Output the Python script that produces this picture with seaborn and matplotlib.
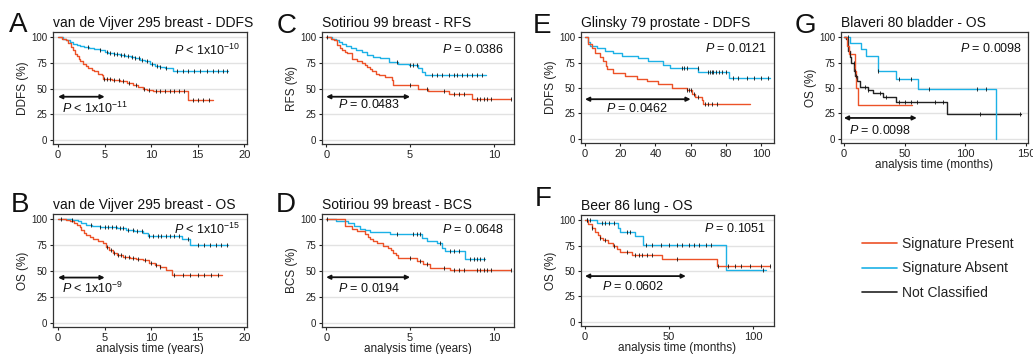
import numpy as np
import pandas as pd
import matplotlib
matplotlib.use('Agg')
import matplotlib.pyplot as plt
from matplotlib.lines import Line2D
import seaborn as sns

sns.set_theme(style="ticks")
plt.rcParams['font.family'] = ['Liberation Sans', 'DejaVu Sans']
plt.rcParams['mathtext.fontset'] = 'custom'
plt.rcParams['mathtext.rm'] = 'Liberation Sans'
plt.rcParams['mathtext.it'] = 'Liberation Sans:italic'

RED = '#ec5228'
BLUE = '#1cb1e6'
BLACK = '#222222'
palette = {'Signature Present': RED, 'Signature Absent': BLUE, 'Not Classified': BLACK}

# A: van de Vijver 295 breast - DDFS (years)
a_pres_t = [0.4, 0.9, 1.1, 1.4, 1.6, 1.8, 2.0, 2.2, 2.4, 2.7, 3.0, 3.2, 3.6, 3.9, 4.3, 4.7, 4.8,
            5.8, 6.6, 7.4, 8.1, 8.6, 9.1, 9.6, 10.2, 14.0]
a_pres_s = [98.5, 96.8, 94, 90.3, 87, 83.9, 81.5, 79, 76.5, 74, 72, 70, 68.3, 66.7, 64.5, 62.8, 59.7,
            58.3, 57, 55.5, 53.7, 51.8, 49.8, 48.5, 47.3, 38.6]
a_pres_end = 16.6
a_pres_cens = [4.9, 5.3, 5.6, 6.0, 6.5, 7.0, 7.6, 8.4, 9.2, 9.8, 10.5, 11.0, 11.5, 12.0, 12.5, 13.0,
               13.5, 14.5, 15.0, 15.6, 16.2]
a_abs_t = [0.5, 0.9, 1.3, 1.6, 2.0, 2.3, 2.8, 3.3, 3.9, 4.5, 5.0, 5.4, 6.0, 6.6, 7.2, 7.8, 8.3, 8.8,
           9.3, 9.9, 10.4, 11.0, 11.5, 12.4]
a_abs_s = [98.5, 96.8, 95, 93.5, 92.3, 91.3, 90.2, 89.3, 88.3, 87, 85.8, 84.8, 83.8, 82.8, 81.7, 80.6,
           79.3, 78, 76.5, 73.5, 72, 70.5, 69.5, 67]
a_abs_end = 18.3
a_abs_cens = [3.2, 4.5, 5.2, 5.6, 6.0, 6.3, 6.8, 7.1, 7.5, 7.9, 8.3, 8.7, 9.0, 9.6, 10.1, 10.6, 11.0,
              11.6, 12.8, 13.4, 14.0, 14.6, 15.3, 16.0, 16.6, 17.2, 17.7, 18.1]

# B: van de Vijver 295 breast - OS (years)
b_pres_t = [0.9, 1.3, 1.7, 2.0, 2.3, 2.5, 2.8, 3.0, 3.4, 3.8, 4.3, 4.8, 5.1, 5.5, 5.9, 6.3, 7.0, 7.7,
            8.4, 9.1, 9.8, 10.4, 10.9, 11.6, 12.2]
b_pres_s = [99.5, 98.7, 96.5, 94.5, 92, 89.7, 87, 84.8, 82.5, 80.6, 78.8, 76.7, 73.5, 70.2, 67.5, 65.4,
            63.8, 62.1, 61.3, 60.5, 57.3, 55.5, 54, 50.8, 46]
b_pres_end = 17.6
b_pres_cens = [5.3, 5.7, 6.0, 6.4, 6.8, 7.2, 7.6, 8.0, 8.6, 9.3, 10.0, 10.5, 11.0, 12.5, 13.4, 14.2,
               15.0, 15.7, 16.4, 17.2]
b_abs_t = [1.5, 2.1, 2.5, 3.0, 3.6, 4.5, 5.5, 6.3, 7.3, 8.2, 9.1, 9.7, 13.3, 14.2]
b_abs_s = [99, 98, 96.5, 94.5, 93.5, 92.9, 92, 91.3, 89.7, 88.3, 87, 83.9, 80.6, 75.2]
b_abs_end = 18.3
b_abs_cens = [0.3, 1.5, 3.5, 4.5, 5.0, 5.4, 5.8, 6.2, 6.6, 7.0, 7.5, 8.0, 8.5, 9.0, 9.8, 10.2, 10.7,
              11.1, 11.6, 12.0, 12.5, 13.0, 14.0, 15.0, 15.7, 16.3, 17.0, 17.5, 18.1]

# C: Sotiriou 99 breast - RFS (years)
c_pres_t = [0.3, 0.46, 0.65, 0.8, 0.95, 1.1, 1.25, 1.55, 1.85, 2.14, 2.3, 2.44, 2.6, 2.74, 2.95, 3.13,
            3.5, 3.93, 4.0, 5.5, 6.1, 7.3, 8.7]
c_pres_s = [98.4, 96.8, 92, 89.5, 87, 86, 84.8, 79, 77, 75, 73, 70.9, 69, 66.7, 64.5, 62.8, 60.8, 58,
            53.2, 50, 47.3, 45, 40]
c_pres_end = 11.05
c_pres_cens = [5.0, 6.0, 7.0, 7.6, 7.9, 8.2, 9.0, 9.2, 9.4, 9.6, 9.8, 11.05]
c_abs_t = [0.35, 0.56, 0.75, 0.95, 1.2, 1.45, 1.8, 2.14, 2.44, 2.8, 3.23, 3.73, 4.3, 4.92, 5.5, 5.7, 5.9]
c_abs_s = [98.5, 96.8, 95, 93.5, 91.5, 89.3, 87.5, 86, 82.2, 81, 79.6, 75.7, 74, 72.5, 70, 66, 63.4]
c_abs_end = 9.55
c_abs_cens = [0.05, 4.2, 5.0, 5.2, 5.4, 6.3, 6.6, 6.9, 7.3, 7.6, 7.8, 8.1, 8.4, 8.7, 9.0, 9.3]

# D: Sotiriou 99 breast - BCS (years)
d_pres_t = [1.13, 1.53, 1.83, 2.32, 2.5, 2.62, 2.8, 3.02, 3.4, 3.71, 3.85, 4.0, 4.15, 4.3, 5.4, 5.8,
            6.2, 7.4]
d_pres_s = [93.5, 90.3, 88.7, 85.5, 83, 80.6, 78.5, 76.7, 74.5, 72.5, 70, 67.6, 65, 62.8, 59.5, 56.3,
            53.1, 50.8]
d_pres_end = 11.05
d_pres_cens = [5.0, 5.6, 6.0, 7.0, 7.6, 7.9, 8.2, 9.0, 9.2, 9.4, 9.6, 9.8, 11.05]
d_abs_t = [0.6, 1.33, 1.63, 2.02, 2.3, 2.62, 3.81, 5.7, 6.0, 6.6, 6.9, 7.1, 8.3]
d_abs_s = [98.4, 96.8, 93.5, 91, 89.5, 87.8, 85.5, 82.2, 79, 77.5, 72.6, 69.4, 62]
d_abs_end = 9.5
d_abs_cens = [0.05, 4.2, 5.2, 5.4, 5.6, 6.8, 7.4, 7.6, 7.9, 8.6, 8.8, 9.0, 9.2, 9.4]

# E: Glinsky 79 prostate - DDFS (months)
e_pres_t = [1.9, 3.8, 5.7, 8.5, 10.4, 12, 12.3, 16.1, 22.7, 29.4, 35, 41.7, 49.2, 57.8, 60.6, 62.5,
            66.3, 67.2]
e_pres_s = [93.6, 88.9, 84.1, 80.9, 76.2, 71.4, 68.2, 65, 61.9, 58.7, 56.5, 54, 50.2, 47.6, 44.4, 41.3,
            38.7, 34.3]
e_pres_end = 93.5
e_pres_cens = [58, 59, 60, 62, 64, 68, 70, 72, 75]
e_abs_t = [1.9, 2.8, 6.6, 11.4, 16.1, 20.8, 30.3, 36, 44.5, 48.3, 64.4, 82]
e_abs_s = [95.2, 91.4, 88.9, 86.3, 84.1, 81.9, 79.4, 76.2, 73, 69.2, 66, 60.3]
e_abs_end = 105
e_abs_cens = [55, 56.5, 58, 64, 70, 71, 72, 73, 74.5, 76, 78, 80, 84, 87, 92, 96, 100, 104]

# F: Beer 86 lung - OS (months)
f_pres_t = [2, 4, 5.9, 7.9, 8.9, 10.9, 13.9, 16.9, 18.8, 20.8, 27.8, 45.6, 78.3]
f_pres_s = [96.1, 91.9, 88.7, 85.5, 82.3, 80, 77.4, 74.2, 71.6, 68.4, 66.2, 62, 54.9]
f_pres_end = 110.4
f_pres_cens = [1, 4, 9, 12, 17, 25, 30, 32, 34, 37, 40, 55, 79, 85, 89, 93, 98, 105, 110]
f_abs_t = [6.9, 19.8, 20.8, 29.8, 34.7, 83.9]
f_abs_s = [97.4, 91.9, 88.7, 84.5, 75.6, 50.7]
f_abs_end = 108
f_abs_cens = [1, 3, 10, 12, 14, 17, 25, 27, 36, 40, 45, 50, 55, 58, 62, 65, 68, 72, 75, 106]

# G: Blaveri 80 bladder - OS (months)
g_pres_t = [2.4, 3.8, 8.9, 10.2, 11.5]
g_pres_s = [91.7, 83.3, 66.7, 50, 33.3]
g_pres_end = 56.3
g_pres_cens = [5, 9]
g_abs_t = [4.8, 14.3, 17.8, 27.8, 43.3, 61.2, 125.2]
g_abs_s = [94, 88, 81.4, 66.8, 58.6, 49.5, 0]
g_abs_end = 125.2
g_abs_cens = [3, 28, 45, 55, 70, 110, 117]
g_nc_t = [1.5, 3.5, 5.0, 6.2, 8.1, 9.5, 10.8, 13, 19.7, 23.8, 31.9, 42.8, 84.6]
g_nc_s = [97.7, 86.4, 80, 75, 66.8, 62, 57, 50.6, 48, 44.7, 40.8, 36.6, 24.6]
g_nc_end = 145.5
g_nc_cens = [8, 10, 17, 20, 30, 35, 45, 50, 55, 60, 75, 82, 112, 145]


def km_frame(name, t, s, end):
    return pd.DataFrame({'time': [0] + t + [end], 'surv': [100] + s + [s[-1]], 'group': name})


def censor_frame(t, s, cens):
    idx = np.searchsorted(t, cens, side='right')
    return pd.DataFrame({'time': cens, 'surv': np.array([100] + s)[idx]})


W, H = 1033, 354
fig = plt.figure(figsize=(W / 100, H / 100), dpi=100)


def panel(box, curves, xlim, xticks, letter, letter_xy, title, ylabel, p_top, p_top_xy,
          p_bot, p_bot_xy, arrow_end, arrow_y, xlabel=None):
    l, t_, r, b = box
    ax = fig.add_axes([l / W, 1 - b / H, (r - l) / W, (b - t_) / H])
    lines = pd.concat([km_frame(n, t, s, e) for n, t, s, e, c in curves])
    marks = pd.concat([censor_frame(t, s, c) for n, t, s, e, c in curves])
    ax.yaxis.grid(True, color='#e2e2e2', lw=1)
    ax.set_axisbelow(True)
    sns.lineplot(data=lines, x='time', y='surv', hue='group', palette=palette, estimator=None,
                 sort=False, drawstyle='steps-post', lw=1, legend=False, ax=ax)
    ax.plot(marks['time'], marks['surv'], ls='none', marker='|', ms=2.4, mew=0.6, color='#111')
    ax.annotate('', xy=(arrow_end, arrow_y), xytext=(0, arrow_y),
                arrowprops=dict(arrowstyle='<|-|>', color='#111', lw=1.3, mutation_scale=6,
                                shrinkA=0, shrinkB=0))
    ax.text(p_top_xy[0], p_top_xy[1], p_top, transform=ax.transAxes, ha='right', va='center',
            fontsize=9, color='#111')
    ax.text(p_bot_xy[0], p_bot_xy[1], p_bot, ha='left', va='center', fontsize=9, color='#111')
    ax.set_xlim(*xlim)
    ax.set_ylim(-4, 105)
    ax.set_xticks(xticks)
    ax.set_yticks([0, 25, 50, 75, 100])
    ax.tick_params(axis='both', length=2.5, width=0.8, pad=1.5, colors='#222')
    ax.tick_params(axis='y', labelsize=7)
    ax.tick_params(axis='x', labelsize=8)
    for sp in ax.spines.values():
        sp.set_visible(True)
        sp.set_color('#333')
        sp.set_linewidth(0.9)
    ax.set_ylabel(ylabel, fontsize=8.5, labelpad=1.5, color='#222')
    ax.set_xlabel(xlabel if xlabel else '', fontsize=8.5, labelpad=0, color='#222')
    ax.set_title(title, loc='left', fontsize=10, pad=3.5, color='#111')
    fig.text(letter_xy[0] / W, 1 - letter_xy[1] / H, letter, fontsize=20, va='baseline',
             ha='left', color='#111')
    return ax


panel((53, 32, 247, 144),
      [('Signature Absent', a_abs_t, a_abs_s, a_abs_end, a_abs_cens),
       ('Signature Present', a_pres_t, a_pres_s, a_pres_end, a_pres_cens)],
      (-0.55, 20.3), [0, 5, 10, 15, 20], 'A', (9, 32), 'van de Vijver 295 breast - DDFS', 'DDFS (%)',
      r'$P$ < 1x10$^{-10}$', (0.964, 0.84), r'$P$ < 1x10$^{-11}$', (0.45, 31), 5, 42)

panel((53, 214, 247, 327),
      [('Signature Absent', b_abs_t, b_abs_s, b_abs_end, b_abs_cens),
       ('Signature Present', b_pres_t, b_pres_s, b_pres_end, b_pres_cens)],
      (-0.55, 20.3), [0, 5, 10, 15, 20], 'B', (11, 212), 'van de Vijver 295 breast - OS', 'OS (%)',
      r'$P$ < 1x10$^{-15}$', (0.964, 0.86), r'$P$ < 1x10$^{-9}$', (0.45, 33), 5, 43.7,
      'analysis time (years)')

panel((322, 32, 514, 144),
      [('Signature Absent', c_abs_t, c_abs_s, c_abs_end, c_abs_cens),
       ('Signature Present', c_pres_t, c_pres_s, c_pres_end, c_pres_cens)],
      (-0.25, 11.2), [0, 5, 10], 'C', (277, 33), 'Sotiriou 99 breast - RFS', 'RFS (%)',
      r'$P$ = 0.0386', (0.948, 0.84), r'$P$ = 0.0483', (0.7, 34), 5, 42)

panel((322, 214, 514, 327),
      [('Signature Absent', d_abs_t, d_abs_s, d_abs_end, d_abs_cens),
       ('Signature Present', d_pres_t, d_pres_s, d_pres_end, d_pres_cens)],
      (-0.25, 11.2), [0, 5, 10], 'D', (276, 212), 'Sotiriou 99 breast - BCS', 'BCS (%)',
      r'$P$ = 0.0648', (0.948, 0.866), r'$P$ = 0.0194', (0.7, 33), 5, 44,
      'analysis time (years)')

panel((581, 32, 774, 143),
      [('Signature Absent', e_abs_t, e_abs_s, e_abs_end, e_abs_cens),
       ('Signature Present', e_pres_t, e_pres_s, e_pres_end, e_pres_cens)],
      (-2.3, 107.4), [0, 20, 40, 60, 80, 100], 'E', (533, 33), 'Glinsky 79 prostate - DDFS',
      'DDFS (%)', r'$P$ = 0.0121', (0.964, 0.855), r'$P$ = 0.0462', (12, 29.5), 60, 39)

panel((581, 215, 774, 326),
      [('Signature Absent', f_abs_t, f_abs_s, f_abs_end, f_abs_cens),
       ('Signature Present', f_pres_t, f_pres_s, f_pres_end, f_pres_cens)],
      (-2.4, 112.5), [0, 50, 100], 'F', (535, 206), 'Beer 86 lung - OS', 'OS (%)',
      r'$P$ = 0.1051', (0.96, 0.874), r'$P$ = 0.0602', (10, 35), 60, 45,
      'analysis time (months)')

panel((841, 32, 1028, 143),
      [('Not Classified', g_nc_t, g_nc_s, g_nc_end, g_nc_cens),
       ('Signature Absent', g_abs_t, g_abs_s, g_abs_end, g_abs_cens),
       ('Signature Present', g_pres_t, g_pres_s, g_pres_end, g_pres_cens)],
      (-2.4, 151.6), [0, 50, 100, 150], 'G', (795, 33), 'Blaveri 80 bladder - OS', 'OS (%)',
      r'$P$ = 0.0098', (0.968, 0.847), r'$P$ = 0.0098', (4, 8), 60, 20.6,
      'analysis time (months)')

handles = [Line2D([], [], color=palette[k], lw=1.2) for k in palette]
fig.legend(handles, list(palette), loc='upper left', bbox_to_anchor=(862 / W, 1 - 237 / H),
           frameon=False, fontsize=10, handlelength=2.5, handletextpad=0.4, labelspacing=0.75,
           borderpad=0, borderaxespad=0, labelcolor='#222')

fig.savefig('out.png', dpi=100)
